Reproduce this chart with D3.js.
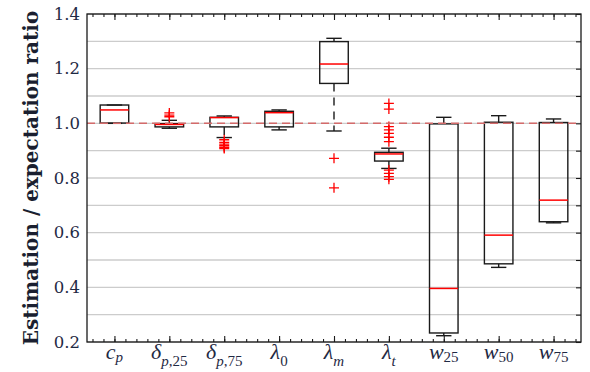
<!DOCTYPE html>
<html>
<head>
<meta charset="utf-8">
<script src="https://cdn.jsdelivr.net/npm/d3@7"></script>
<style>
  html, body { margin: 0; padding: 0; background: #ffffff; }
  svg { display: block; }
</style>
</head>
<body>
<svg id="chart" width="590" height="372"></svg>
<script>
// ---------- data ----------
const categories   = ["c_p", "delta_p25", "delta_p75", "lambda_0", "lambda_m", "lambda_t", "w_25", "w_50", "w_75"];
const catSymbols   = ["c", "δ", "δ", "λ", "λ", "λ", "w", "w", "w"];
const catSubs      = ["p", "p,25", "p,75", "0", "m", "t", "25", "50", "75"];
const medians      = [1.049, 0.996, 1.021, 1.039, 1.217, 0.888, 0.396, 0.591, 0.719];
const q1Values     = [1.001, 0.987, 0.987, 0.987, 1.146, 0.862, 0.233, 0.486, 0.640];
const q3Values     = [1.067, 0.999, 1.022, 1.044, 1.299, 0.894, 0.998, 1.004, 1.003];
const whiskerLow   = [1.000, 0.982, 0.948, 0.976, 0.972, 0.835, 0.223, 0.473, 0.636];
const whiskerHigh  = [1.067, 1.011, 1.027, 1.049, 1.311, 0.909, 1.022, 1.028, 1.016];
const outliers     = [
  [],
  [1.038, 1.030, 1.024],
  [0.940, 0.930, 0.924, 0.918, 0.912, 0.908],
  [],
  [0.872, 0.764],
  [1.073, 1.052, 0.988, 0.976, 0.963, 0.949, 0.933, 0.829, 0.817, 0.805, 0.795],
  [],
  [],
  []
];
const yTickLabels  = [0.2, 0.4, 0.6, 0.8, 1.0, 1.2, 1.4];
const yGridValues  = [0.2, 0.3, 0.4, 0.5, 0.6, 0.7, 0.8, 0.9, 1.0, 1.1, 1.2, 1.3, 1.4];
const referenceValue = 1.0;
const yTitle = "Estimation / expectation ratio";

// ---------- layout ----------
const pL = 87, pR = 581, pT = 14, pB = 342;
const svg = d3.select("#chart");

const y = d3.scaleLinear().domain([0.2, 1.4]).range([pB, pT]);
const x = d3.scaleBand().domain(categories).range([pL, pR]).padding(0);
const bw = x.bandwidth();
const cx = c => x(c) + bw / 2;
const xPos = d3.scaleLinear().domain([0.5, categories.length + 0.5]).range([pL, pR]);
const minorTicks = d3.range(0.6, categories.length + 0.5, 0.2).map(v => +v.toFixed(2));
const majorTicks = d3.range(1, categories.length + 1);

const ink = "#1a1a1a";
const labelColor = "#1f2a44";

// gridlines
svg.append("g").selectAll("line").data(yGridValues).join("line")
  .attr("x1", pL).attr("x2", pR)
  .attr("y1", d => y(d)).attr("y2", d => y(d))
  .attr("stroke", "#cccccc").attr("stroke-width", 1.4);

// y axis labels (left)
const yAxisL = svg.append("g").attr("transform", `translate(${pL},0)`)
  .call(d3.axisLeft(y).tickValues(yTickLabels).tickFormat(d3.format(".1f")).tickSize(0).tickPadding(7));
yAxisL.select(".domain").remove();
yAxisL.selectAll("text").attr("font-family", "'DejaVu Serif', serif").attr("font-size", 16.5).attr("fill", labelColor);

// right axis inward ticks
const yAxisR = svg.append("g").attr("transform", `translate(${pR},0)`)
  .call(d3.axisRight(y).tickValues(yGridValues).tickSizeInner(-5).tickSizeOuter(0).tickFormat(""));
yAxisR.select(".domain").remove();
yAxisR.selectAll("line").attr("stroke", ink).attr("stroke-width", 1.1);

// top & bottom inward ticks
function xTicks(gen, yPos, values, size) {
  const g = svg.append("g").attr("transform", `translate(0,${yPos})`)
    .call(gen(xPos).tickValues(values).tickSizeInner(-size).tickSizeOuter(0).tickFormat(""));
  g.select(".domain").remove();
  g.selectAll("line").attr("stroke", ink).attr("stroke-width", 1.1);
}
xTicks(d3.axisTop, pT, minorTicks, 3);
xTicks(d3.axisTop, pT, majorTicks, 6);
xTicks(d3.axisBottom, pB, minorTicks, 3);
xTicks(d3.axisBottom, pB, majorTicks, 6);

// boxes
const boxW = bw * 0.52, capW = bw * 0.28;
const gBox = svg.append("g");
categories.forEach((c, i) => {
  const g = gBox.append("g");
  const xc = cx(c);
  g.append("line").attr("x1", xc).attr("x2", xc)
    .attr("y1", y(q3Values[i])).attr("y2", y(whiskerHigh[i]))
    .attr("stroke", ink).attr("stroke-width", 1.4).attr("stroke-dasharray", "8,6");
  g.append("line").attr("x1", xc).attr("x2", xc)
    .attr("y1", y(q1Values[i])).attr("y2", y(whiskerLow[i]))
    .attr("stroke", ink).attr("stroke-width", 1.4).attr("stroke-dasharray", "8,6");
  [whiskerHigh[i], whiskerLow[i]].forEach(v => {
    g.append("line").attr("x1", xc - capW / 2).attr("x2", xc + capW / 2)
      .attr("y1", y(v)).attr("y2", y(v))
      .attr("stroke", ink).attr("stroke-width", 1.4);
  });
  g.append("rect").attr("x", xc - boxW / 2).attr("width", boxW)
    .attr("y", y(q3Values[i])).attr("height", Math.max(0.5, y(q1Values[i]) - y(q3Values[i])))
    .attr("fill", "none").attr("stroke", ink).attr("stroke-width", 1.4);
  g.append("line").attr("x1", xc - boxW / 2).attr("x2", xc + boxW / 2)
    .attr("y1", y(medians[i])).attr("y2", y(medians[i]))
    .attr("stroke", "#ff0000").attr("stroke-width", 1.5);
  g.selectAll("path.out").data(outliers[i]).join("path")
    .attr("class", "out")
    .attr("d", d => `M${xc - 5},${y(d)}H${xc + 5}M${xc},${y(d) - 5}V${y(d) + 5}`)
    .attr("stroke", "#ff0000").attr("stroke-width", 1.3).attr("fill", "none");
});

// reference dashed line at 1.0
svg.append("line").attr("x1", pL).attr("x2", pR)
  .attr("y1", y(referenceValue)).attr("y2", y(referenceValue))
  .attr("stroke", "#d46a6a").attr("stroke-width", 1.5).attr("stroke-dasharray", "8,5");

// frame
svg.append("rect").attr("x", pL).attr("y", pT)
  .attr("width", pR - pL).attr("height", pB - pT)
  .attr("fill", "none").attr("stroke", ink).attr("stroke-width", 1.3);

// category labels
const gLab = svg.append("g").attr("font-family", "'Liberation Serif', serif").attr("fill", labelColor);
categories.forEach((c, i) => {
  const t = gLab.append("text").attr("x", cx(c)).attr("y", 359)
    .attr("text-anchor", "middle").attr("font-size", 22);
  t.append("tspan").attr("font-style", "italic").text(catSymbols[i]);
  const greek = /[α-ω]/.test(catSymbols[i]);
  let first = true;
  catSubs[i].match(/[a-z]+|[^a-z]+/g).forEach(run => {
    const ts = t.append("tspan").attr("font-size", 15).text(run)
      .attr("font-style", /[a-z]/.test(run) ? "italic" : "normal");
    if (first) { ts.attr("dy", greek ? 7 : 3); first = false; }
  });
});

// y title
svg.append("text")
  .attr("transform", `translate(38,${(pT + pB) / 2}) rotate(-90)`)
  .attr("text-anchor", "middle")
  .attr("font-family", "'DejaVu Serif', serif")
  .attr("font-weight", "bold")
  .attr("font-size", 20)
  .attr("fill", "#1a1f30")
  .text(yTitle);
</script>
</body>
</html>
